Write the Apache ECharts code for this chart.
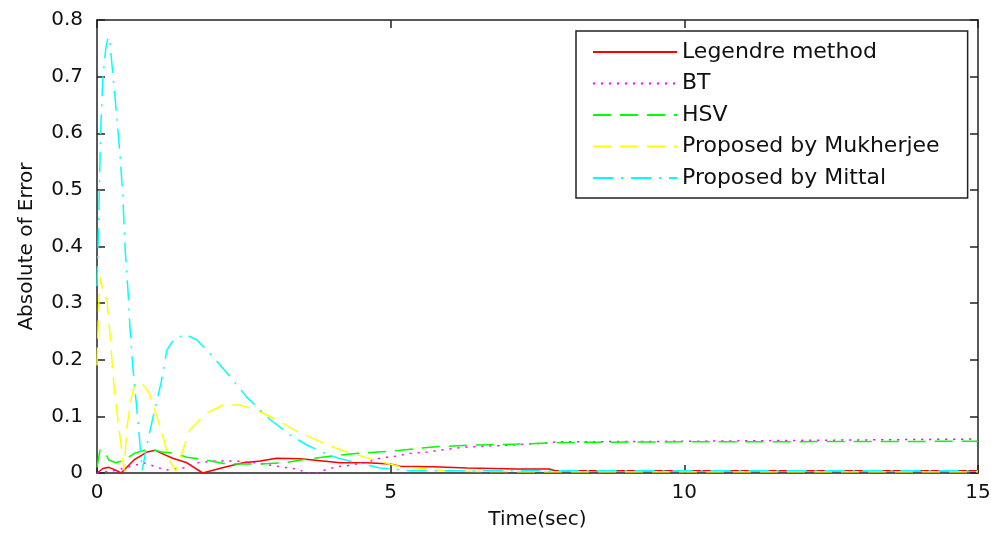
<!DOCTYPE html>
<html>
<head>
<meta charset="utf-8">
<script src="https://cdn.jsdelivr.net/npm/echarts@6/dist/echarts.min.js"></script>
<style>
    html, body { margin: 0; padding: 0; background: #fff; }
    #chart { width: 991px; height: 534px; }
</style>
</head>
<body>
<div id="chart"></div>
<script>
// values (time in sec, absolute error)
const legendreT = [0, 0.1, 0.2, 0.3, 0.41, 0.63, 0.85, 1.0, 1.09, 1.29, 1.53, 1.8, 2.2, 2.49, 2.78, 3.06, 3.46, 4.14, 4.6, 4.99, 5.16, 5.72, 6.3, 7.15, 7.7, 7.8, 15];
const legendreV = [0, 0.008, 0.01, 0.006, 0, 0.023, 0.037, 0.04, 0.035, 0.026, 0.018, 0, 0.011, 0.018, 0.021, 0.026, 0.025, 0.018, 0.018, 0.016, 0.012, 0.011, 0.009, 0.007, 0.007, 0.004, 0.004];

const btT = [0, 0.34, 0.51, 0.8, 1.17, 1.53, 1.7, 2.0, 2.38, 2.7, 3.06, 3.24, 3.41, 3.58, 3.75, 3.92, 4.09, 4.26, 4.43, 4.6, 4.77, 4.94, 5.11, 5.28, 5.62, 5.96, 6.3, 6.81, 7.66, 7.83, 10, 12.5, 15];
const btV = [0, 0.005, 0.01, 0.018, 0.005, 0.01, 0.018, 0.021, 0.021, 0.018, 0.012, 0.009, 0.007, 0, 0, 0.007, 0.011, 0.013, 0.016, 0.019, 0.025, 0.028, 0.03, 0.034, 0.037, 0.042, 0.046, 0.048, 0.053, 0.055, 0.056, 0.058, 0.06];

const hsvT = [0, 0.05, 0.12, 0.2, 0.32, 0.47, 0.64, 0.8, 1.0, 1.1, 1.3, 1.53, 1.75, 2.2, 2.78, 3.2, 3.6, 4.0, 4.36, 4.77, 5.16, 5.72, 6.3, 7.15, 8, 10, 15];
const hsvV = [0.01, 0.04, 0.04, 0.023, 0.018, 0.023, 0.035, 0.04, 0.04, 0.037, 0.035, 0.028, 0.025, 0.016, 0.016, 0.018, 0.025, 0.03, 0.034, 0.037, 0.04, 0.046, 0.049, 0.051, 0.054, 0.055, 0.056];

const mukherjeeT = [0, 0.03, 0.06, 0.1, 0.17, 0.22, 0.29, 0.37, 0.43, 0.46, 0.51, 0.58, 0.63, 0.75, 0.89, 1.02, 1.14, 1.23, 1.34, 1.58, 1.87, 2.15, 2.43, 2.72, 3.06, 3.41, 3.85, 4.14, 4.43, 4.82, 5.16, 5.45, 6, 8, 15];
const mukherjeeV = [0.19, 0.3, 0.345, 0.32, 0.306, 0.247, 0.152, 0.081, 0.035, 0.005, 0.081, 0.129, 0.152, 0.161, 0.141, 0.1, 0.058, 0.023, 0.003, 0.076, 0.106, 0.12, 0.12, 0.111, 0.094, 0.073, 0.053, 0.041, 0.032, 0.02, 0.011, 0.009, 0.003, 0.002, 0.002];

const mittalT = [0, 0.03, 0.06, 0.1, 0.15, 0.19, 0.22, 0.31, 0.39, 0.44, 0.48, 0.53, 0.56, 0.61, 0.68, 0.73, 0.77, 0.85, 0.97, 1.09, 1.19, 1.3, 1.5, 1.7, 1.87, 2.21, 2.55, 2.95, 3.29, 3.58, 3.9, 4.14, 4.6, 4.82, 5.3, 6, 8, 15];
const mittalV = [0.33, 0.45, 0.6, 0.7, 0.75, 0.77, 0.76, 0.66, 0.565, 0.488, 0.394, 0.318, 0.258, 0.187, 0.111, 0.053, 0.005, 0.05, 0.106, 0.159, 0.217, 0.235, 0.245, 0.235, 0.217, 0.177, 0.134, 0.094, 0.067, 0.049, 0.034, 0.025, 0.014, 0.009, 0.004, 0.004, 0.004, 0.004];

const seriesNames = ["Legendre method", "BT", "HSV", "Proposed by Mukherjee", "Proposed by Mittal"];
const xTicks = [0, 5, 10, 15];
const yTicks = [0, 0.1, 0.2, 0.3, 0.4, 0.5, 0.6, 0.7, 0.8];

const pair = (t, v) => t.map((x, i) => [x, v[i]]);
const FONT = "DejaVu Sans";

let chart = echarts.init(document.getElementById("chart"), null, { renderer: "canvas" });

const axisBase = {
    type: "value",
    axisLine: { show: true, onZero: false, lineStyle: { color: "#222", width: 1.5 } },
    axisTick: { show: true, inside: true, length: 8, lineStyle: { color: "#222", width: 1.5 } },
    splitLine: { show: false },
};

const mkLine = (name, t, v, color, dash) => ({
    name: name,
    type: "line",
    xAxisIndex: 0,
    yAxisIndex: 0,
    symbol: "none",
    smooth: false,
    data: pair(t, v),
    lineStyle: { color: color, width: 1.5, type: dash },
    itemStyle: { color: color },
    animation: false,
});

let option = {
    animation: false,
    backgroundColor: "#fff",
    grid: { left: 97, right: 13, top: 20, bottom: 61, outerBoundsMode: "none", containLabel: false },
    xAxis: [
        Object.assign({}, axisBase, {
            position: "bottom",
            min: xTicks[0],
            max: xTicks[xTicks.length - 1],
            interval: 5,
            axisLabel: { fontFamily: FONT, fontSize: 20, color: "#111", margin: 10 },
            name: "Time(sec)",
            nameLocation: "middle",
            nameGap: 37,
            nameTextStyle: { fontFamily: FONT, fontSize: 20, color: "#111" },
        }),
        Object.assign({}, axisBase, {
            position: "top",
            min: xTicks[0],
            max: xTicks[xTicks.length - 1],
            interval: 5,
            axisLabel: { show: false },
        }),
    ],
    yAxis: [
        Object.assign({}, axisBase, {
            position: "left",
            min: yTicks[0],
            max: yTicks[yTicks.length - 1],
            interval: 0.1,
            axisLabel: { fontFamily: FONT, fontSize: 20, color: "#111", margin: 14 },
            name: "Absolute of Error",
            nameLocation: "middle",
            nameGap: 60,
            nameTextStyle: { fontFamily: FONT, fontSize: 20, color: "#111" },
        }),
        Object.assign({}, axisBase, {
            position: "right",
            min: yTicks[0],
            max: yTicks[yTicks.length - 1],
            interval: 0.1,
            axisLabel: { show: false },
        }),
    ],
    legend: {
        orient: "vertical",
        left: 576,
        top: 31,
        padding: [10, 28, 9, 16],
        itemWidth: 84,
        itemHeight: 14,
        itemGap: 9.5,
        selectedMode: false,
        borderColor: "#222",
        borderWidth: 1.5,
        backgroundColor: "#fff",
        // only the line sample, no marker dot
        itemStyle: { opacity: 0 },
        lineStyle: { opacity: 1 },
        textStyle: { fontFamily: FONT, fontSize: 22, lineHeight: 22, color: "#111" },
        data: seriesNames,
    },
    series: [
        mkLine(seriesNames[0], legendreT, legendreV, "#ff0000", "solid"),
        mkLine(seriesNames[1], btT, btV, "#ff00ff", [2, 6]),
        mkLine(seriesNames[2], hsvT, hsvV, "#00ff00", [18, 9]),
        mkLine(seriesNames[3], mukherjeeT, mukherjeeV, "#ffff00", [18, 9]),
        mkLine(seriesNames[4], mittalT, mittalV, "#00ffff", [20, 8, 2, 8]),
    ],
};

chart.setOption(option);
</script>
</body>
</html>
